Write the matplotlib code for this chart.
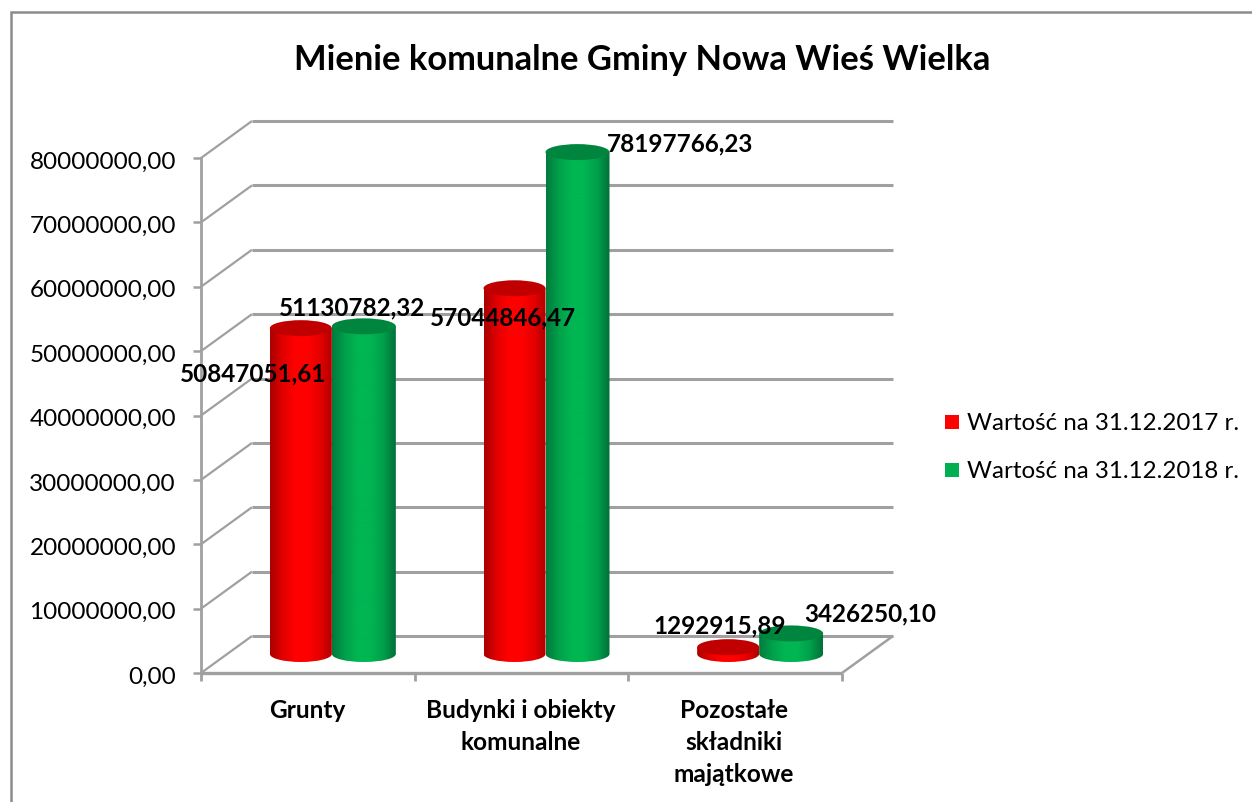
import numpy as np
import matplotlib
matplotlib.use("Agg")
import matplotlib.pyplot as plt
from matplotlib.colors import LinearSegmentedColormap
from matplotlib.patches import Ellipse, PathPatch, Rectangle
from matplotlib.path import Path
from matplotlib.lines import Line2D
from matplotlib.transforms import Affine2D

TITLE = "Mienie komunalne Gminy Nowa Wieś Wielka"
categories = ["Grunty", "Budynki i obiekty\nkomunalne", "Pozostałe\nskładniki\nmajątkowe"]
series_names = ["Wartość na 31.12.2017 r.", "Wartość na 31.12.2018 r."]
values_2017 = [50847051.61, 57044846.47, 1292915.89]
values_2018 = [51130782.32, 78197766.23, 3426250.10]
labels_2017 = ["50847051,61", "57044846,47", "1292915,89"]
labels_2018 = ["51130782,32", "78197766,23", "3426250,10"]
y_ticks = [0, 10000000, 20000000, 30000000, 40000000, 50000000, 60000000, 70000000, 80000000]

W, H = 1252, 802
plt.rcParams['font.family'] = ['Lato', 'DejaVu Sans']
fig = plt.figure(figsize=(W/100, H/100), dpi=100, facecolor='white')

# outer frame
bg = fig.add_axes([0, 0, 1, 1]); bg.set_xlim(0, W); bg.set_ylim(H, 0); bg.axis('off')
GR = '#a0a0a0'
bg.plot([11, 11, W], [H, 12, 12], color='#8c8c8c', lw=1.8, solid_joinstyle='miter')

# plot axes: front plane of the pseudo-3D box
L, R, T, B = 201, 842, 158, 673
ax = fig.add_axes([L/W, 1-B/H, (R-L)/W, (B-T)/H])
ax.set_xlim(0, 3); ax.set_ylim(0, 80000000); ax.axis('off')
ax.patch.set_alpha(0)
DX, DY = 51, 37   # depth in pixels


def off(dx, dy):
    return ax.transData + Affine2D().translate(dx, dy)


def pxline(xs, ys, lw, col=GR):
    ax.add_line(Line2D(xs, ys, transform=None, color=col, lw=lw, clip_on=False,
                       solid_capstyle='butt'))


for v in y_ticks:
    p0 = ax.transData.transform((0, v))
    ax.plot([0, 3], [v, v], transform=off(DX, DY), color=GR, lw=2.2, clip_on=False,
            solid_capstyle='butt')
    pxline([p0[0], p0[0]+DX], [p0[1], p0[1]+DY], 1.6)
    pxline([p0[0]-8, p0[0]], [p0[1], p0[1]], 1.8)
    ax.text(-0.117, v, f"{v:.2f}".replace('.', ','), ha='right', va='center', fontsize=17.5,
            color='black', clip_on=False, transform=off(0, -4))

# axis lines
ax.plot([0, 0], [0, 80000000], color=GR, lw=2, clip_on=False)
ax.plot([0, 3], [0, 0], color=GR, lw=2.4, clip_on=False, solid_capstyle='butt')
p = ax.transData.transform((3, 0))
pxline([p[0], p[0]+DX], [p[1], p[1]+DY], 1.8)
for i in range(4):
    q = ax.transData.transform((i, 0))
    pxline([q[0], q[0]], [q[1], q[1]-8], 2)

red_cm = LinearSegmentedColormap.from_list('r', ['#a80000', '#e00000', '#ff0000', '#ff0000', '#e80000', '#b00000'])
grn_cm = LinearSegmentedColormap.from_list('g', ['#007a3c', '#00a04a', '#00b652', '#00b652', '#00a04a', '#00703a'])
grad = np.linspace(0, 1, 256).reshape(1, -1)

EH = 16.0          # ellipse height in pixels
PDX, PDY_BASE, PDY_TOP = 24, 19, 17.5  # bar depth centre offsets


def cylinder(cat, left, width, value, cmap, topcol):
    x0 = ax.transData.transform((cat + 0.5, 0))
    cx = x0[0] + PDX + left + width / 2
    yb = x0[1] + PDY_BASE
    yt = ax.transData.transform((0, value))[1] + PDY_TOP
    a, b = width / 2, EH / 2
    k = 0.5523
    verts = [(cx-a, yt), (cx-a, yb),
             (cx-a, yb-k*b), (cx-k*a, yb-b), (cx, yb-b),
             (cx+k*a, yb-b), (cx+a, yb-k*b), (cx+a, yb),
             (cx+a, yt), (cx-a, yt)]
    codes = [Path.MOVETO, Path.LINETO, Path.CURVE4, Path.CURVE4, Path.CURVE4, Path.CURVE4,
             Path.CURVE4, Path.CURVE4, Path.LINETO, Path.CLOSEPOLY]
    patch = PathPatch(Path(verts, codes), transform=None, fc='none', ec='none', clip_on=False)
    ax.add_patch(patch)
    inv = ax.transData.inverted()
    (xa, ya), (xb, yc) = inv.transform([(cx-a, yb-b), (cx+a, yt)])
    im = ax.imshow(grad, extent=[xa, xb, ya, yc], cmap=cmap, aspect='auto', zorder=3,
                   interpolation='bilinear')
    im.set_clip_path(patch)
    im.set_clip_box(fig.bbox)
    ax.add_patch(Ellipse((cx, yt), 2*a, 2*b, transform=None, fc=topcol, ec='none', zorder=3.1,
                         clip_on=False))
    ax.set_xlim(0, 3); ax.set_ylim(0, 80000000)


for i in range(3):
    cylinder(i, -62, 62, values_2017[i], red_cm, '#c00000')
    cylinder(i, 0, 64, values_2018[i], grn_cm, '#00853f')


def bar_label(cat, value, text, dx, dy):
    x0 = ax.transData.transform((cat + 0.5, value))
    fig.text((x0[0] + dx) / W, (x0[1] + dy) / H, text, ha='center', va='center',
             fontsize=17.5, fontweight='bold', color='black', zorder=10)


bar_label(0, values_2017[0], labels_2017[0], -55, -28)
bar_label(0, values_2018[0], labels_2018[0], 44, 36)
bar_label(1, values_2017[1], labels_2017[1], -19, -12)
bar_label(1, values_2018[1], labels_2018[1], 159, 26)
bar_label(2, values_2017[2], labels_2017[2], -16, 39)
bar_label(2, values_2018[2], labels_2018[2], 135, 37)

# category labels
for i, c in enumerate(categories):
    ax.text(i + 0.5, 0, c, ha='center', va='top', fontsize=17.6, fontweight='bold', color='black',
            transform=ax.transData + Affine2D().translate(-1, -26), linespacing=1.48, clip_on=False)

# title
fig.text(642/W, 1-60/H, TITLE, ha='center', va='center', fontsize=24.8, fontweight='bold', color='black')

# legend
for name, col, y in zip(series_names, ['#ff0000', '#00b050'], [422, 470]):
    bg.add_patch(Rectangle((945, y-7), 14, 14, fc=col, ec='none'))
    bg.text(967, y+2, name, ha='left', va='center', fontsize=17.4, color='black')

fig.savefig('out.png', dpi=100)
